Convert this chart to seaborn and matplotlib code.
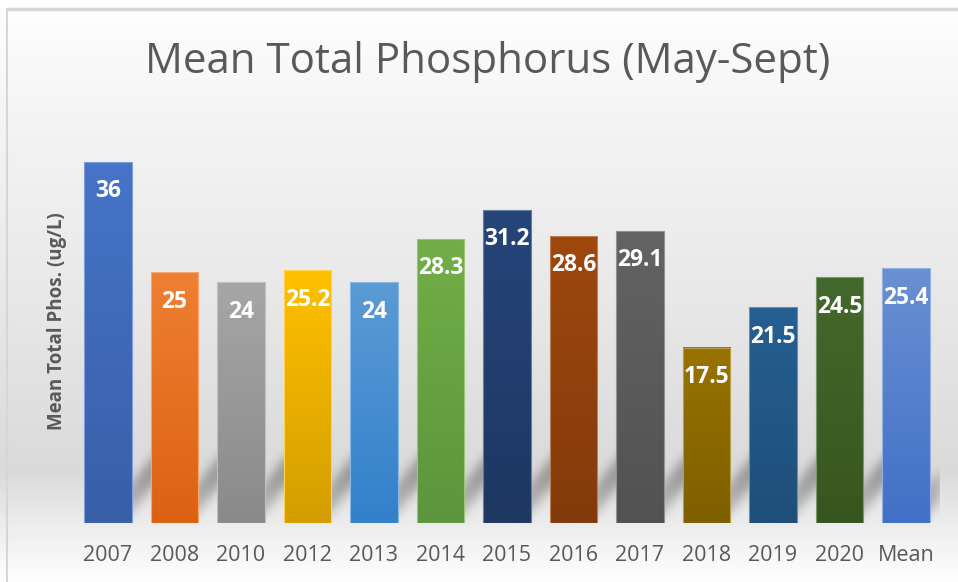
import numpy as np
import matplotlib.pyplot as plt
import matplotlib.colors as mcolors
import seaborn as sns

years = ["2007", "2008", "2010", "2012", "2013", "2014", "2015",
         "2016", "2017", "2018", "2019", "2020", "Mean"]
phos = [36, 25, 24, 25.2, 24, 28.3, 31.2, 28.6, 29.1, 17.5, 21.5, 24.5, 25.4]

top_colors = ["#4674c8", "#ef7f33", "#a6a6a6", "#ffc000", "#5b9bd5", "#72ae48",
              "#264579", "#9e480e", "#636363", "#997300", "#265f92", "#44692c", "#6990d3"]
bottom_colors = ["#385fa8", "#dc6212", "#8a8a8a", "#d39e00", "#3380cb", "#5c953c",
                 "#1e3763", "#833a0b", "#525252", "#7e5f00", "#1f4e79", "#37561f", "#4170c6"]

sns.set_theme(style="white")
plt.rcParams['font.family'] = ['Open Sans', 'DejaVu Sans']

fig = plt.figure(figsize=(9.58, 5.82), dpi=100)

# chart-area gradient background
bg = fig.add_axes([0, 0, 1, 1], zorder=-10)
rows = np.arange(582)
shade = np.interp(rows, [0, 12, 130, 300, 470, 525, 582],
                  [1.0, 0.995, 0.955, 0.91, 0.855, 0.93, 1.0])
bg.imshow(shade[:, None, None] * np.ones((1, 1, 3)), aspect='auto', extent=(0, 1, 0, 1))
bg.set_axis_off()
fig.add_artist(plt.Line2D([7 / 958, 1], [1 - 9 / 582, 1 - 9 / 582], color="#d6d6d6", lw=2.5))
fig.add_artist(plt.Line2D([7 / 958, 7 / 958], [0, 1 - 9 / 582], color="#d6d6d6", lw=1.5))

ax = fig.add_axes([0.078, 0.1014, 0.9024, 0.689])
ax.patch.set_alpha(0)
sns.barplot(x=years, y=phos, hue=years, palette=top_colors, legend=False,
            width=0.71, saturation=1, ax=ax)
ax.set_xlim(-0.5, 12.5)
ax.set_ylim(0, 40)

# soft diagonal (perspective) shadows behind the bars
W, H = 865, 401
shadow = np.zeros((H, W))
yy, xx = np.mgrid[0:H, 0:W]
for p in ax.patches:
    c0 = (p.get_x() + 0.5) / 13 * W
    left = c0 + 15 + 0.8 * yy
    inside = (yy <= 68) & (xx >= left) & (xx <= left + 24)
    prof = 0.5 + 0.5 * np.clip(yy / 45, 0, 1)
    shadow = np.maximum(shadow, inside * prof)
k = np.exp(-0.5 * (np.arange(-16, 17) / 5.0) ** 2)
k /= k.sum()
shadow = np.apply_along_axis(lambda r: np.convolve(r, k, mode='same'), 1, shadow)
shadow = np.apply_along_axis(lambda c: np.convolve(c, k, mode='same'), 0, shadow)
rgba = np.zeros((H, W, 4))
rgba[..., 3] = shadow * 0.3
ax.imshow(rgba, origin='lower', extent=(-0.5, 12.5, 0, 40), aspect='auto', zorder=1)

# vertical gradient inside each bar, value label near its top
for p, ctop, cbot in zip(ax.patches, top_colors, bottom_colors):
    x0, w, h = p.get_x(), p.get_width(), p.get_height()
    t = np.linspace(0, 1, 64)[:, None, None]
    grad = (1 - t) * np.array(mcolors.to_rgb(cbot)) + t * np.array(mcolors.to_rgb(ctop))
    ax.imshow(grad, origin='lower', extent=(x0, x0 + w, 0, h), aspect='auto',
              interpolation='bilinear', zorder=2)
    edge = 0.7 * np.array(mcolors.to_rgb(ctop)) + 0.3
    p.set_facecolor('none')
    p.set_edgecolor(edge)
    p.set_linewidth(0.8)
    p.set_zorder(3)
    ax.annotate(f"{h:g}", xy=(x0 + w / 2, h), xytext=(0, -21), textcoords='offset points',
                ha='center', va='center', color='white', fontsize=16.5, fontweight='bold',
                zorder=4)

ax.set_xlim(-0.5, 12.5)
ax.set_ylim(0, 40)
sns.despine(ax=ax, left=True, bottom=True)
ax.set_yticks([])
ax.tick_params(axis='x', length=0, pad=16, labelsize=15.5, labelcolor='#595959')
ax.set_xlabel("")
ax.set_ylabel("")

fig.text(488 / 958, 1 - 62 / 582, "Mean Total Phosphorus (May-Sept)", ha='center', va='center',
         fontsize=30.3, color='#595959')
fig.text(57 / 958, 1 - 321 / 582, "Mean Total Phos. (ug/L)", rotation=90, ha='center',
         va='center', fontsize=13.5, fontweight='bold', color='#595959')

fig.savefig("out.png", dpi=100)
